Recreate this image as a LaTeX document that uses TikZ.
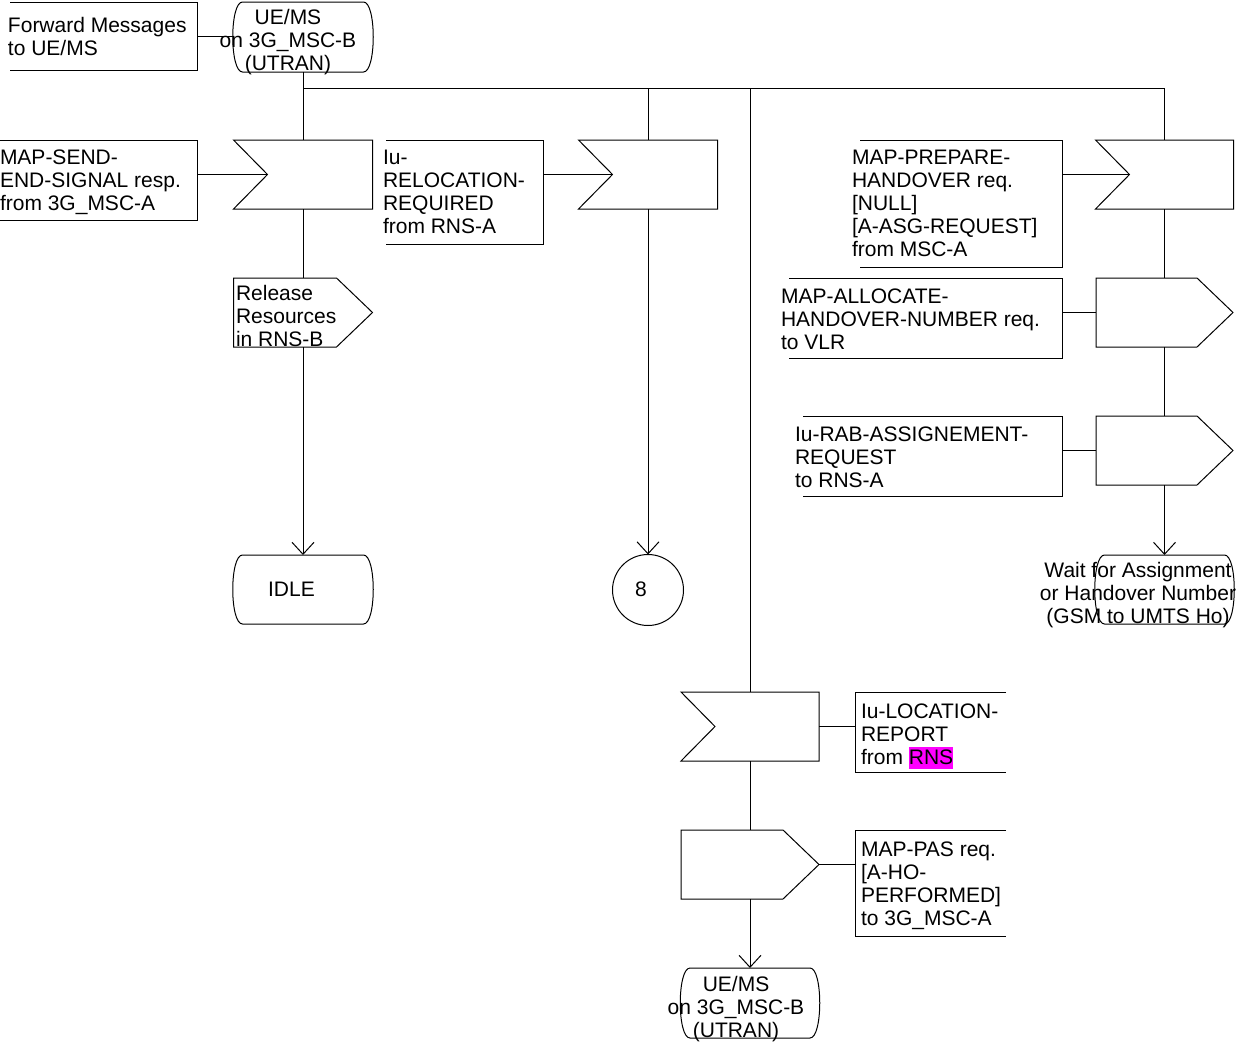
\documentclass[tikz,border=0pt]{standalone}
\usepackage{fontspec}
\setmainfont{Liberation Sans}
\usetikzlibrary{arrows.meta,calc}
\definecolor{hlmag}{RGB}{255,0,255}
\newcommand\fs{\fontsize{21}{23}\selectfont}
\newcommand\fl{\rule{0pt}{16.5pt}}
\newcommand\mkin[1]{\draw (#1.north west) -- (#1.north east) -- (#1.south east) -- (#1.south west) -- ([xshift=34pt]#1.west) -- cycle;}
\newcommand\mkout[1]{\draw (#1.north west) -- ([xshift=-36pt]#1.north east) -- (#1.east) -- ([xshift=-36pt]#1.south east) -- (#1.south west) -- cycle;}
\newcommand\mkstate[1]{\draw ([xshift=10pt]#1.north west) -- ([xshift=-10pt]#1.north east) .. controls ([xshift=3pt]#1.north east) and ([xshift=3pt]#1.south east) .. ([xshift=-10pt]#1.south east) -- ([xshift=10pt]#1.south west) .. controls ([xshift=-3pt]#1.south west) and ([xshift=-3pt]#1.north west) .. cycle;}
\newcommand\mkcl[1]{\draw (#1.north west) -- (#1.north east) -- (#1.south east) -- (#1.south west);}
\newcommand\mkcr[1]{\draw (#1.north east) -- (#1.north west) -- (#1.south west) -- (#1.south east);}
\begin{document}
\begin{tikzpicture}[x=1pt,y=-1pt,line width=1pt,font=\fs,
  sz/.style 2 args={minimum width=#1pt,minimum height=#2pt,inner sep=0pt,outer sep=0pt,draw=none},
  lt/.style={inner sep=0pt,outer sep=0pt,align=left,anchor=north west},
  ct/.style={inner sep=0pt,outer sep=0pt,align=center,anchor=north},
  arr/.style={-{Straight Barb[length=12pt,width=22pt]}}]
\useasboundingbox (0,0) rectangle (1245,1044);

% states
\node[sz={141}{70}] (top) at (303,37) {};
\node[sz={141}{69}] (idle) at (303,589.5) {};
\node[sz={140}{70}] (bot) at (750,1003) {};
\node[sz={140}{69}] (wait) at (1164.5,589.5) {};
\mkstate{top}\mkstate{idle}\mkstate{bot}\mkstate{wait}

% input signals
\node[sz={139}{69}] (in1) at (303,174.5) {};
\node[sz={139}{69}] (in2) at (648,174.5) {};
\node[sz={138}{69}] (in3) at (750,726.5) {};
\node[sz={138}{69}] (in4) at (1164.5,174.5) {};
\mkin{in1}\mkin{in2}\mkin{in3}\mkin{in4}
\coordinate (in1tip) at ([xshift=34pt]in1.west);
\coordinate (in2tip) at ([xshift=34pt]in2.west);
\coordinate (in4tip) at ([xshift=34pt]in4.west);

% output signals
\node[sz={139}{69}] (out1) at (303,312.5) {};
\node[sz={137}{69}] (out2) at (1164.5,312.5) {};
\node[sz={137}{69}] (out3) at (1164.5,450.5) {};
\node[sz={138}{69}] (out4) at (750,864.5) {};
\mkout{out1}\mkout{out2}\mkout{out3}\mkout{out4}

% connector circle
\node[circle,draw,minimum size=71pt,inner sep=0pt,outer sep=0pt] (c8) at (648,590) {};

% comment brackets
\node[sz={187}{68}] (c0) at (103.5,36) {};
\node[sz={197}{80}] (c1) at (98.5,180) {};
\node[sz={157}{104}] (c2) at (464.5,192) {};
\node[sz={202}{127}] (c3) at (961,203.5) {};
\node[sz={273}{80}] (c4) at (925.5,318) {};
\node[sz={259}{80}] (c5) at (932.5,456) {};
\node[sz={151}{80}] (c6) at (930.5,732) {};
\node[sz={151}{106}] (c7) at (930.5,883) {};
\mkcl{c0}\mkcl{c1}\mkcl{c2}\mkcl{c3}\mkcl{c4}\mkcl{c5}\mkcr{c6}\mkcr{c7}

% texts
\node[ct] (ttop) at (288,8) {\fl UE/MS\\on 3G\_MSC-B\\(UTRAN)};
\node[ct] (tidle) at (291.5,580) {\fl IDLE};
\node[ct] (tbot) at (736,975) {\fl UE/MS\\on 3G\_MSC-B\\(UTRAN)};
\node[ct] (twait) at (1138,561) {\fl Wait for Assignment\\or Handover Number\\(GSM to UMTS Ho)};
\node[ct] (t8) at (641,580) {\fl 8};
\node[lt] (tc0) at (8,16) {\fl Forward Messages\\to UE/MS};
\node[lt] (tc1) at (0,148) {\fl MAP-SEND-\\END-SIGNAL resp.\\from 3G\_MSC-A};
\node[lt] (tc2) at (383,148) {\fl Iu-\\RELOCATION-\\REQUIRED\\from RNS-A};
\node[lt] (tc3) at (852,148) {\fl MAP-PREPARE-\\HANDOVER req.\\{}[NULL]\\{}[A-ASG-REQUEST]\\from MSC-A};
\node[lt] (tc4) at (781,287) {\fl MAP-ALLOCATE-\\HANDOVER-NUMBER req.\\to VLR};
\node[lt] (tc5) at (795,425) {\fl Iu-RAB-ASSIGNEMENT-\\REQUEST\\to RNS-A};
\node[lt] (tc6) at (861,702) {\fl Iu-LOCATION-\\REPORT\\from {\setlength\fboxsep{0pt}\colorbox{hlmag}{\rule[-4.5pt]{0pt}{22.5pt}RNS}}};
\node[lt] (tc7) at (861,840) {\fl MAP-PAS req.\\{}[A-HO-\\PERFORMED]\\to 3G\_MSC-A};
\node[lt] (tout1) at (236,284) {\fl Release\\Resources\\in RNS-B};

% flow lines
\coordinate (j1) at (303,88);
\coordinate (j2) at (648,88);
\coordinate (j3) at (750,88);
\coordinate (j4) at (1164.5,88);
\draw (top.south) -- (j1) -- (j4) -- (in4.north);
\draw (j1) -- (in1.north);
\draw (j2) -- (in2.north);
\draw (j3) -- (in3.north);
\draw (in1.south) -- (out1.north);
\draw[arr] (out1.south) -- (idle.north);
\draw[arr] (in2.south) -- (c8.north);
\draw (in3.south) -- (out4.north);
\draw[arr] (out4.south) -- (bot.north);
\draw (in4.south) -- (out2.north);
\draw (out2.south) -- (out3.north);
\draw[arr] (out3.south) -- (wait.north);

% comment connectors
\draw (c0.east) -- (c0.east -| top.west);
\draw (in1tip -| c1.east) -- (in1tip);
\draw (in2tip -| c2.east) -- (in2tip);
\draw (in4tip -| c3.east) -- (in4tip);
\draw (out2.west -| c4.east) -- (out2.west);
\draw (out3.west -| c5.east) -- (out3.west);
\draw (in3.east) -- (in3.east -| c6.west);
\draw (out4.east) -- (out4.east -| c7.west);
\end{tikzpicture}
\end{document}
